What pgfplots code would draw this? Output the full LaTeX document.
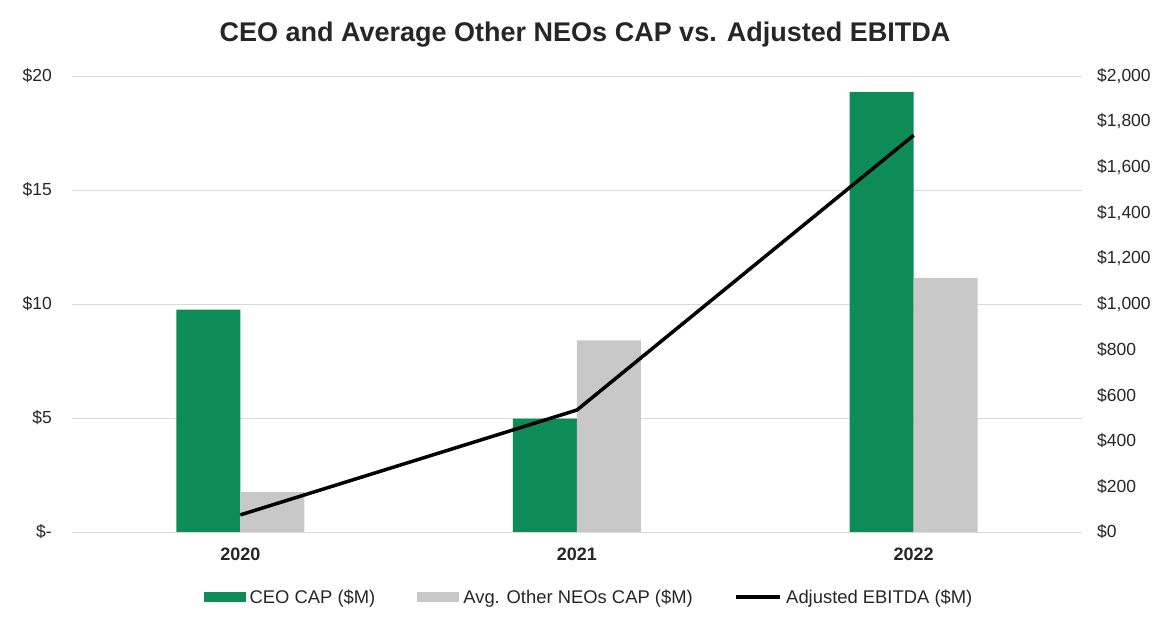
\documentclass[border=0pt]{standalone}
\usepackage{pgfplots}
\pgfplotsset{compat=1.18}
\usepackage{fontspec}
\setmainfont{Liberation Sans}
\definecolor{ceogreen}{HTML}{0E8C57}
\definecolor{neogray}{HTML}{C8C8C8}
\definecolor{gridgray}{HTML}{D9D9D9}
\definecolor{txt}{HTML}{262626}
\begin{document}
\begin{tikzpicture}
\path[use as bounding box] (0pt,0pt) rectangle (1170pt,628pt);
\node[anchor=base, font=\fontsize{27pt}{30pt}\selectfont\bfseries, text=txt, inner sep=0pt] at (585pt,586pt) {CEO and Average Other NEOs CAP vs. Adjusted EBITDA};
\begin{axis}[
  at={(72pt,96pt)}, anchor=south west,
  scale only axis, width=1010pt, height=456pt,
  xmin=-0.5, xmax=2.5, ymin=0, ymax=20,
  xtick={0,1,2}, xticklabels={2020,2021,2022},
  ytick={0,5,10,15,20},
  yticklabels={\$-,\$5,\$10,\$15,\$20},
  /pgf/number format/assume math mode=true,
  axis line style={draw=none}, tick style={draw=none},
  ymajorgrids, grid style={gridgray, line width=0.9pt},
  yticklabel style={font=\fontsize{17.5pt}{20pt}\selectfont, text=txt, inner sep=0pt, anchor=east, xshift=-20pt},
  xticklabel style={font=\fontsize{18pt}{20pt}\selectfont\bfseries, text=txt, inner sep=0pt, anchor=north, yshift=-16pt},
  legend columns=3,
  legend style={at={(0.5,0)}, anchor=center, yshift=-65pt, xshift=13pt, draw=none, fill=none,
    font=\fontsize{18.4pt}{20pt}\selectfont, text=txt,
    /tikz/every even column/.append style={column sep=38pt},
    nodes={inner xsep=4pt, inner ysep=3pt}},
  clip=false,
]
\addplot[ybar, bar width=64pt, bar shift=-32pt, fill=ceogreen, draw=none,
  legend image code/.code={\fill[ceogreen] (0pt,-5pt) rectangle (42pt,5pt);}]
  coordinates {(0,9.75) (1,4.97) (2,19.3)};
\addlegendentry{CEO CAP (\$M)}
\addplot[ybar, bar width=64pt, bar shift=32pt, fill=neogray, draw=none,
  legend image code/.code={\fill[neogray] (0pt,-5pt) rectangle (42pt,5pt);}]
  coordinates {(0,1.75) (1,8.4) (2,11.15)};
\addlegendentry{Avg. Other NEOs CAP (\$M)}
\addlegendimage{legend image code/.code={\draw[black, line width=3.5pt] (0pt,0pt) -- (44pt,0pt);}}
\addlegendentry{Adjusted EBITDA (\$M)}
\end{axis}
\begin{axis}[
  at={(72pt,96pt)}, anchor=south west,
  scale only axis, width=1010pt, height=456pt,
  xmin=-0.5, xmax=2.5, ymin=0, ymax=2000,
  hide x axis,
  axis y line*=right,
  axis line style={draw=none}, tick style={draw=none},
  ytick={0,200,...,2000},
  yticklabels={\$0,\$200,\$400,\$600,\$800,\$1{,}000,\$1{,}200,\$1{,}400,\$1{,}600,\$1{,}800,\$2{,}000},
  /pgf/number format/assume math mode=true,
  yticklabel style={font=\fontsize{17.5pt}{20pt}\selectfont, text=txt, inner sep=0pt, anchor=west, xshift=15pt},
  clip=false,
]
\addplot[black, line width=3.5pt, line join=round] coordinates {(0,75) (1,535) (2,1740)};
\end{axis}
\end{tikzpicture}
\end{document}
